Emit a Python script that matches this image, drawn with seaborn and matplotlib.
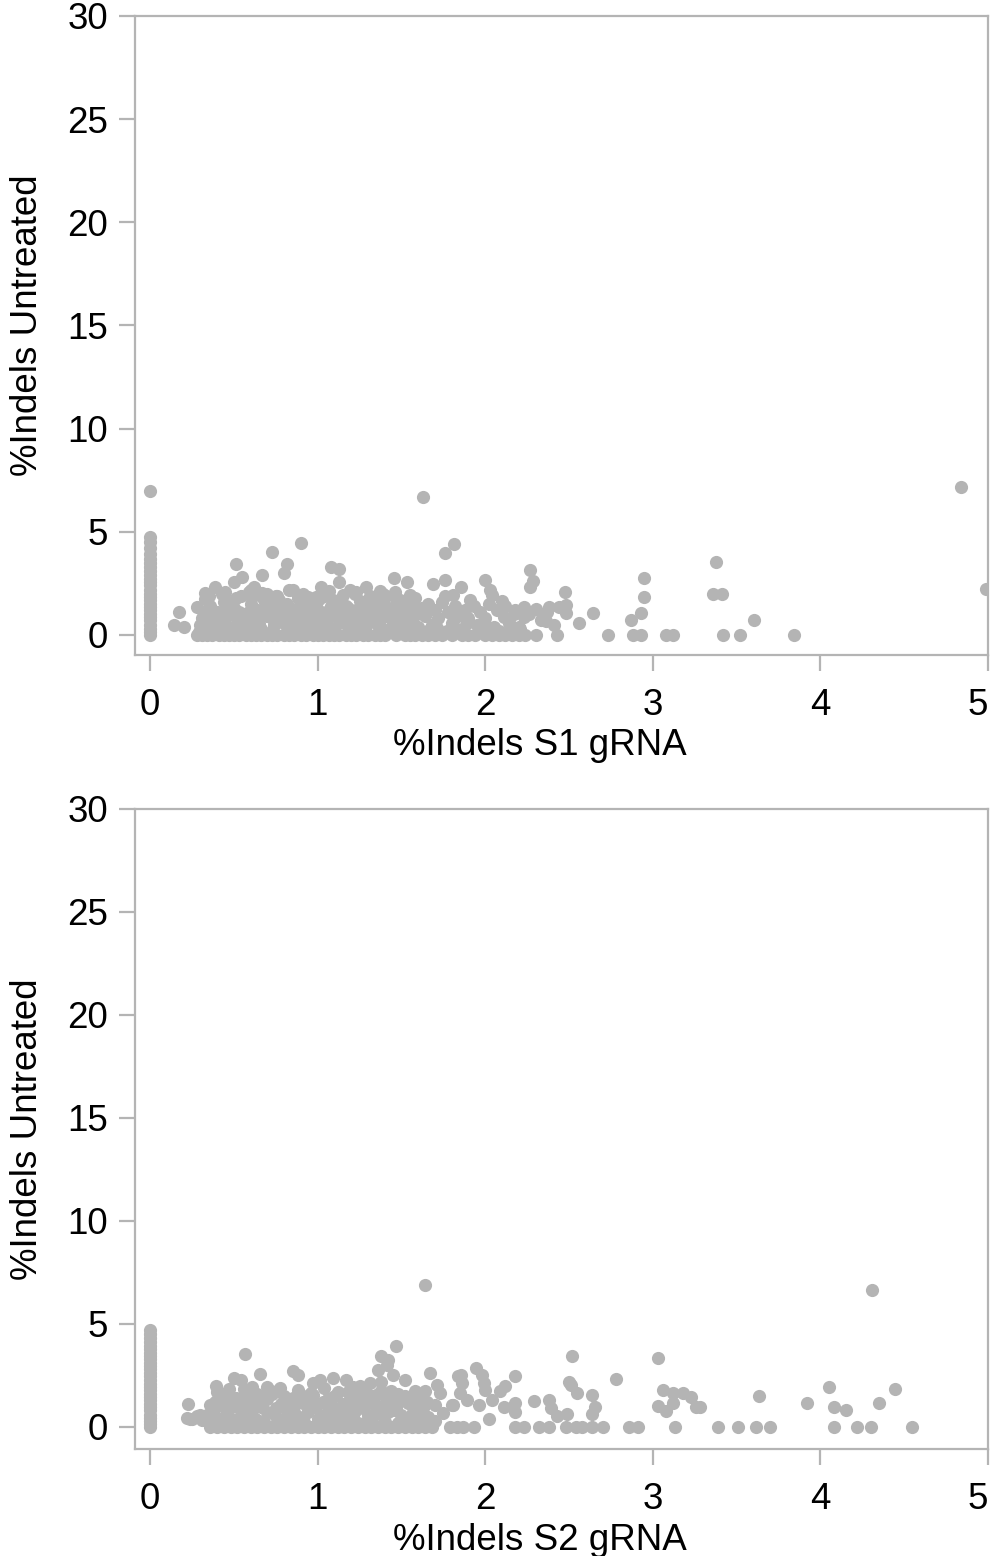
import matplotlib
matplotlib.use("Agg")
import matplotlib.pyplot as plt
import seaborn as sns
import pandas as pd

# ---- data (x = %Indels gRNA, y = %Indels Untreated) ----
# points sitting on x = 0
s1_zero_y = [0, 0.15, 0.3, 0.5, 0.7, 0.85, 1.0, 1.2, 1.35, 1.5, 1.7, 1.85, 2.0, 2.2,
             2.4, 2.55, 2.7, 2.9, 3.1, 3.3, 3.5, 3.7, 3.9, 4.2, 4.5, 4.75, 6.95]
# points sitting on y = 0
s1_base_x = [0.28, 0.31, 0.34, 0.37, 0.41, 0.44, 0.47, 0.5, 0.53, 0.57, 0.6, 0.63, 0.66,
             0.7, 0.73, 0.76, 0.8, 0.83, 0.86, 0.9, 0.93, 0.97, 1.0, 1.03, 1.07, 1.1, 1.13,
             1.17, 1.2, 1.23, 1.27, 1.3, 1.34, 1.37, 1.4, 1.47, 1.52, 1.55, 1.58, 1.62,
             1.66, 1.7, 1.74, 1.8, 1.86, 1.9, 1.94, 2.0, 2.04, 2.08, 2.12, 2.16, 2.2, 2.24,
             2.3, 2.43, 2.735, 2.88, 2.93, 3.08, 3.12, 3.417, 3.52, 3.84]
# remaining points
s1_x = [0.30, 0.32, 0.34, 0.36, 0.38, 0.40, 0.42, 0.44, 0.46, 0.48, 0.50, 0.52, 0.54, 0.56,
        0.58, 0.60, 0.62, 0.64, 0.66, 0.68, 0.70, 0.72, 0.74, 0.76, 0.78, 0.80, 0.82, 0.84,
        0.86, 0.88, 0.90, 0.92, 0.94, 0.96, 0.98, 1.00, 1.02, 1.04, 1.06, 1.08, 1.10, 1.12,
        1.14, 1.16, 1.18, 1.20, 1.22, 1.24, 1.26, 1.28, 1.30, 1.32, 1.34, 1.36, 1.38, 1.40,
        1.42, 1.44, 1.46, 1.48, 1.50, 1.52, 1.54, 1.56, 1.58, 1.60, 1.62,
        0.31, 0.35, 0.39, 0.43, 0.47, 0.51, 0.55, 0.59, 0.63, 0.67, 0.71, 0.75, 0.79, 0.83,
        0.87, 0.91, 0.95, 0.99, 1.03, 1.07, 1.11, 1.15, 1.19, 1.23, 1.27, 1.31, 1.35, 1.39,
        1.43, 1.47, 1.51, 1.55, 1.59,
        0.33, 0.37, 0.41, 0.45, 0.49, 0.53, 0.57, 0.61, 0.65, 0.69, 0.73, 0.77, 0.81, 0.85,
        0.89, 0.93, 0.97, 1.01, 1.05, 1.09, 1.13, 1.17, 1.21, 1.25, 1.29, 1.33, 1.37, 1.41,
        1.45, 1.49, 1.53, 1.57,
        0.29, 0.33, 0.37, 0.41, 0.45, 0.49, 0.53, 0.57, 0.61, 0.65, 0.69, 0.73, 0.77, 0.81,
        0.85, 0.89, 0.93, 0.97, 1.01, 1.05, 1.09, 1.13, 1.17, 1.21, 1.25, 1.29, 1.33, 1.37,
        1.41, 1.45, 1.49, 1.53, 1.57, 1.61,
        0.35, 0.43, 0.51, 0.59, 0.67, 0.75, 0.83, 0.91, 0.99, 1.07, 1.15, 1.23, 1.31, 1.39,
        1.47, 1.55,
        0.33, 0.39, 0.50, 0.51, 0.55, 0.67, 0.73, 0.80, 0.815, 0.90, 0.945, 1.02, 1.08, 1.13,
        1.13, 1.19, 1.29, 1.37, 1.456, 1.535, 1.627, 0.173, 0.145, 0.20, 0.28, 0.45, 0.60,
        0.70, 0.85, 0.62,
        1.69, 1.76, 1.76, 1.814, 1.855, 2.0, 2.03, 2.04, 1.91, 2.10, 1.81, 1.76, 2.23, 2.30,
        2.38, 2.44, 2.48, 2.474, 2.48, 2.37, 2.36, 2.41, 2.23, 2.17, 2.11, 2.56, 2.64, 2.267,
        2.287, 2.267, 2.87, 2.93, 2.95, 2.95, 3.377, 3.36, 3.415, 3.606, 4.84, 4.99,
        1.64, 1.66, 1.68, 1.70, 1.72, 1.74, 1.78, 1.80, 1.82, 1.84, 1.86, 1.88, 1.90, 1.93,
        1.95, 1.97, 2.00, 2.02, 2.05, 2.07, 2.12, 2.14, 2.18, 2.20, 2.26, 2.33,
        1.65, 1.71, 1.77, 1.83, 1.89, 1.96, 2.01, 2.08, 2.15, 2.21]
s1_y = [0.5, 1.0, 0.3, 1.4, 0.7, 1.1, 0.4, 1.6, 0.9, 0.2, 1.3, 0.6, 1.9, 1.0,
        0.4, 1.5, 0.8, 1.2, 0.3, 1.7, 0.9, 1.3, 0.5, 1.9, 1.1, 0.6, 1.5, 0.3,
        1.0, 1.8, 0.7, 1.3, 0.4, 1.6, 0.9, 1.2, 0.5, 1.9, 0.8, 1.4, 0.3, 1.1,
        1.7, 0.6, 1.3, 0.9, 2.0, 0.4, 1.5, 1.0, 0.7, 1.8, 1.2, 0.5, 1.6, 0.9,
        1.3, 0.3, 2.1, 1.0, 0.6, 1.5, 1.2, 0.8, 1.8, 0.4, 1.3,
        0.8, 1.2, 0.2, 0.8, 1.3, 0.9, 0.3, 1.1, 0.5, 1.0, 1.6, 0.8, 1.4, 0.9,
        0.5, 1.1, 0.8, 1.5, 1.0, 0.4, 1.6, 1.0, 0.5, 1.2, 0.8, 1.4, 0.9, 0.3,
        1.0, 1.5, 0.9, 0.4, 1.0,
        0.6, 1.2, 0.9, 0.5, 1.6, 1.1, 0.7, 1.3, 0.4, 1.2, 0.8, 1.7, 0.5, 1.2,
        0.6, 1.0, 1.4, 0.6, 1.1, 1.7, 0.7, 1.4, 0.6, 1.1, 0.5, 1.3, 0.7, 1.2,
        0.6, 1.7, 1.1, 1.3,
        0.15, 1.75, 0.6, 1.05, 0.2, 1.45, 0.75, 0.15, 1.85, 0.55, 1.05, 0.2, 1.55, 0.7,
        0.15, 1.35, 0.95, 0.2, 1.75, 0.55, 0.15, 1.45, 0.85, 0.2, 1.65, 0.45, 1.05, 0.15,
        1.9, 0.7, 0.2, 1.1, 0.55, 0.15,
        1.9, 2.0, 1.8, 2.1, 2.05, 1.9, 2.2, 2.0, 1.85, 2.15, 1.95, 2.1, 1.9, 2.0,
        1.8, 1.95,
        2.03, 2.34, 2.58, 3.43, 2.83, 2.88, 4.04, 3.02, 3.44, 4.46, 1.86, 2.34, 3.31, 3.21,
        2.58, 2.18, 2.31, 2.15, 2.75, 2.58, 6.66, 1.13, 0.48, 0.40, 1.37, 2.1, 2.2,
        2.0, 2.2, 2.3,
        2.47, 2.67, 3.96, 4.40, 2.31, 2.67, 2.18, 1.94, 1.70, 1.66, 1.94, 1.89, 1.37, 1.25,
        1.34, 1.37, 1.45, 2.10, 1.05, 1.13, 0.65, 0.48, 0.89, 1.02, 0.89, 0.60, 1.05, 3.15,
        2.62, 2.34, 0.73, 1.05, 1.86, 2.78, 3.55, 1.99, 1.99, 0.70, 7.19, 2.21,
        0.9, 1.5, 0.5, 1.2, 0.8, 1.6, 1.1, 0.6, 1.4, 0.9, 0.3, 1.2, 0.8, 1.4,
        0.5, 1.1, 0.8, 1.5, 0.4, 1.2, 1.4, 0.6, 1.2, 0.4, 1.0, 0.7,
        0.2, 0.35, 0.2, 0.3, 0.6, 0.25, 0.4, 0.2, 0.5, 0.3]

s2_zero_y = [0, 0.15, 0.3, 0.45, 0.6, 0.8, 0.95, 1.1, 1.3, 1.45, 1.6, 1.8, 1.95, 2.1, 2.3,
             2.45, 2.6, 2.8, 2.95, 3.1, 3.3, 3.45, 3.6, 3.8, 3.95, 4.1, 4.3, 4.5, 4.72]
s2_base_x = [0.36, 0.40, 0.44, 0.48, 0.52, 0.56, 0.60, 0.64, 0.68, 0.72, 0.76, 0.80, 0.84,
             0.88, 0.92, 0.96, 1.00, 1.04, 1.08, 1.12, 1.16, 1.20, 1.24, 1.28, 1.32, 1.36,
             1.40, 1.44, 1.48, 1.52, 1.56, 1.60, 1.64, 1.68, 1.79, 1.83, 1.87, 1.93, 2.18,
             2.23, 2.32, 2.38, 2.48, 2.54, 2.58, 2.635, 2.70, 2.86, 2.91, 3.13, 3.39, 3.51,
             3.616, 3.70, 4.08, 4.22, 4.30, 4.545]
s2_x = [0.22, 0.25, 0.28, 0.31, 0.34, 0.37, 0.40, 0.43, 0.46, 0.49, 0.52, 0.55, 0.58, 0.61,
        0.64, 0.67, 0.70, 0.73, 0.76, 0.79, 0.82, 0.85, 0.88, 0.91, 0.94, 0.97, 1.00, 1.03,
        1.06, 1.09, 1.12, 1.15, 1.18, 1.21, 1.24, 1.27, 1.30, 1.33, 1.36, 1.39, 1.42, 1.45,
        1.48, 1.51, 1.54, 1.57, 1.60, 1.63, 1.66,
        0.38, 0.42, 0.46, 0.50, 0.54, 0.58, 0.62, 0.66, 0.70, 0.74, 0.78, 0.82, 0.86, 0.90,
        0.94, 0.98, 1.02, 1.06, 1.10, 1.14, 1.18, 1.22, 1.26, 1.30, 1.34, 1.38, 1.42, 1.46,
        1.50, 1.54, 1.58, 1.62,
        0.40, 0.48, 0.56, 0.64, 0.72, 0.80, 0.88, 0.96, 1.04, 1.12, 1.20, 1.28, 1.36, 1.44,
        1.52, 1.60,
        0.36, 0.44, 0.52, 0.60, 0.68, 0.76, 0.84, 0.92, 1.00, 1.08, 1.16, 1.24, 1.32, 1.40,
        1.48, 1.56, 1.64, 1.70,
        0.39, 0.45, 0.51, 0.57, 0.63, 0.69, 0.75, 0.81, 0.87, 0.93, 0.99, 1.05, 1.11, 1.17,
        1.23, 1.29, 1.35, 1.41, 1.47, 1.53, 1.59, 1.65,
        1.64, 1.47, 1.38, 1.42, 1.415, 1.36, 1.45, 1.52, 1.38, 1.67, 1.71, 0.567, 0.855,
        0.885, 0.656, 0.50, 0.543, 0.392, 0.473, 0.607, 0.696, 0.776, 1.09, 1.014, 0.975,
        1.168, 1.213, 1.25, 1.31, 0.229, 0.239, 0.298, 0.358, 0.437, 1.58, 1.64, 1.70, 1.75,
        1.80, 1.84, 1.73,
        2.52, 3.03, 1.945, 1.98, 1.855, 1.86, 2.18, 2.78, 2.50, 2.51, 2.55, 2.635, 2.655,
        2.635, 1.99, 2.0, 2.12, 2.09, 2.04, 1.85, 1.89, 1.81, 1.96, 2.02, 2.11, 2.18, 2.18,
        2.29, 2.38, 2.39, 2.43, 2.49, 3.06, 3.12, 3.18, 3.23, 3.26, 3.12, 3.03, 3.08,
        4.31, 4.05, 4.445, 3.635, 3.92, 4.08, 4.15, 4.35, 3.28]
s2_y = [0.45, 0.40, 0.55, 0.35, 0.60, 1.00, 0.45, 1.30, 0.70, 0.40, 1.10, 0.60, 1.50, 0.85,
        0.35, 1.25, 0.70, 1.60, 0.45, 1.05, 0.75, 1.40, 0.50, 1.15, 0.80, 1.55, 0.40, 1.20,
        0.75, 1.45, 0.55, 1.10, 1.70, 0.60, 1.30, 0.90, 0.40, 1.50, 1.00, 0.55, 1.25, 0.80,
        1.60, 0.45, 1.15, 0.70, 1.40, 0.90, 0.50,
        0.80, 1.60, 0.55, 1.00, 0.75, 1.25, 0.45, 0.95, 1.35, 0.65, 1.10, 0.45, 1.00, 1.55,
        0.70, 1.15, 0.55, 1.35, 0.90, 0.45, 1.20, 0.75, 1.50, 0.60, 1.05, 1.75, 0.70, 1.15,
        0.60, 1.30, 0.85, 1.10,
        1.70, 1.40, 1.85, 1.60, 1.75, 1.50, 1.80, 1.65, 1.90, 1.70, 1.55, 1.85, 1.60, 1.75,
        1.50, 1.45,
        0.25, 0.30, 0.20, 0.30, 0.25, 0.20, 0.30, 0.25, 0.20, 0.30, 0.25, 0.20, 0.30, 0.25,
        0.20, 0.30, 0.25, 0.30,
        1.20, 0.95, 1.40, 0.65, 1.15, 1.50, 0.90, 1.30, 0.60, 1.45, 0.95, 1.25, 1.55, 0.85,
        1.35, 1.10, 0.65, 1.45, 0.95, 1.25, 0.60, 1.20,
        6.90, 3.94, 3.42, 3.26, 3.01, 2.77, 2.53, 2.28, 2.20, 2.61, 2.04, 3.55, 2.69,
        2.53, 2.58, 2.37, 2.28, 1.99, 1.85, 1.96, 1.93, 1.88, 2.37, 2.28, 2.12,
        2.28, 1.96, 1.99, 2.12, 1.10, 0.37, 0.58, 1.07, 1.47, 1.72, 1.72, 1.07, 0.67,
        1.07, 2.48, 1.64,
        3.42, 3.34, 2.85, 2.53, 2.53, 2.15, 2.45, 2.33, 2.20, 2.04, 1.64, 1.56, 0.96,
        0.63, 2.12, 1.80, 1.99, 1.72, 1.31, 1.64, 1.31, 1.07, 1.07, 0.39, 0.99, 1.15, 0.74,
        1.26, 1.31, 0.91, 0.55, 0.63, 1.80, 1.64, 1.64, 1.47, 0.96, 1.15, 1.02, 0.79,
        6.63, 1.93, 1.85, 1.51, 1.15, 0.99, 0.83, 1.18, 0.96]


def panel_frame(zero_y, base_x, xs, ys):
    px = [0.0] * len(zero_y) + list(base_x) + list(xs)
    py = list(zero_y) + [0.0] * len(base_x) + list(ys)
    return pd.DataFrame({"gRNA": px, "untreated": py})


sns.set_style("white")
plt.rcParams["font.family"] = ["Liberation Sans", "DejaVu Sans"]

grey = "#b4b4b4"
fig = plt.figure(figsize=(9.94, 15.56), dpi=100)

panels = [
    (panel_frame(s1_zero_y, s1_base_x, s1_x, s1_y), "%Indels S1 gRNA",
     [0.1358, 0.5791, 0.8582, 0.4107], -0.97, 0.516),
    (panel_frame(s2_zero_y, s2_base_x, s2_x, s2_y), "%Indels S2 gRNA",
     [0.1358, 0.0688, 0.8582, 0.4113], -1.07, 0.5),
]

for df, xlabel, rect, ybottom, ylab_pos in panels:
    ax = fig.add_axes(rect)
    sns.scatterplot(data=df, x="gRNA", y="untreated", ax=ax, color=grey,
                    s=90, linewidth=0, alpha=1)
    ax.set_xlim(-0.09, 5.0)
    ax.set_ylim(ybottom, 30)
    ax.set_xticks([0, 1, 2, 3, 4, 5])
    ax.set_yticks([0, 5, 10, 15, 20, 25, 30])
    ax.set_xlabel(xlabel, fontsize=26.5, color="black")
    ax.set_ylabel("%Indels Untreated", fontsize=26.5, color="black")
    ax.xaxis.set_label_coords(0.475, -0.115)
    ax.yaxis.set_label_coords(-0.105, ylab_pos)
    for sp in ax.spines.values():
        sp.set_color(grey)
        sp.set_linewidth(1.6)
    ax.tick_params(axis="both", direction="out", length=11.5, width=1.6,
                   color=grey, labelsize=26.5, labelcolor="black",
                   bottom=True, left=True)
    ax.tick_params(axis="x", pad=12)
    ax.tick_params(axis="y", pad=8)
    # last x label sits inside the figure edge, as in the reference
    ax.get_xticklabels()[-1].set_horizontalalignment("right")
    ax.get_xticklabels()[-1].set_x(5.0)

fig.savefig("out.png", dpi=100)
